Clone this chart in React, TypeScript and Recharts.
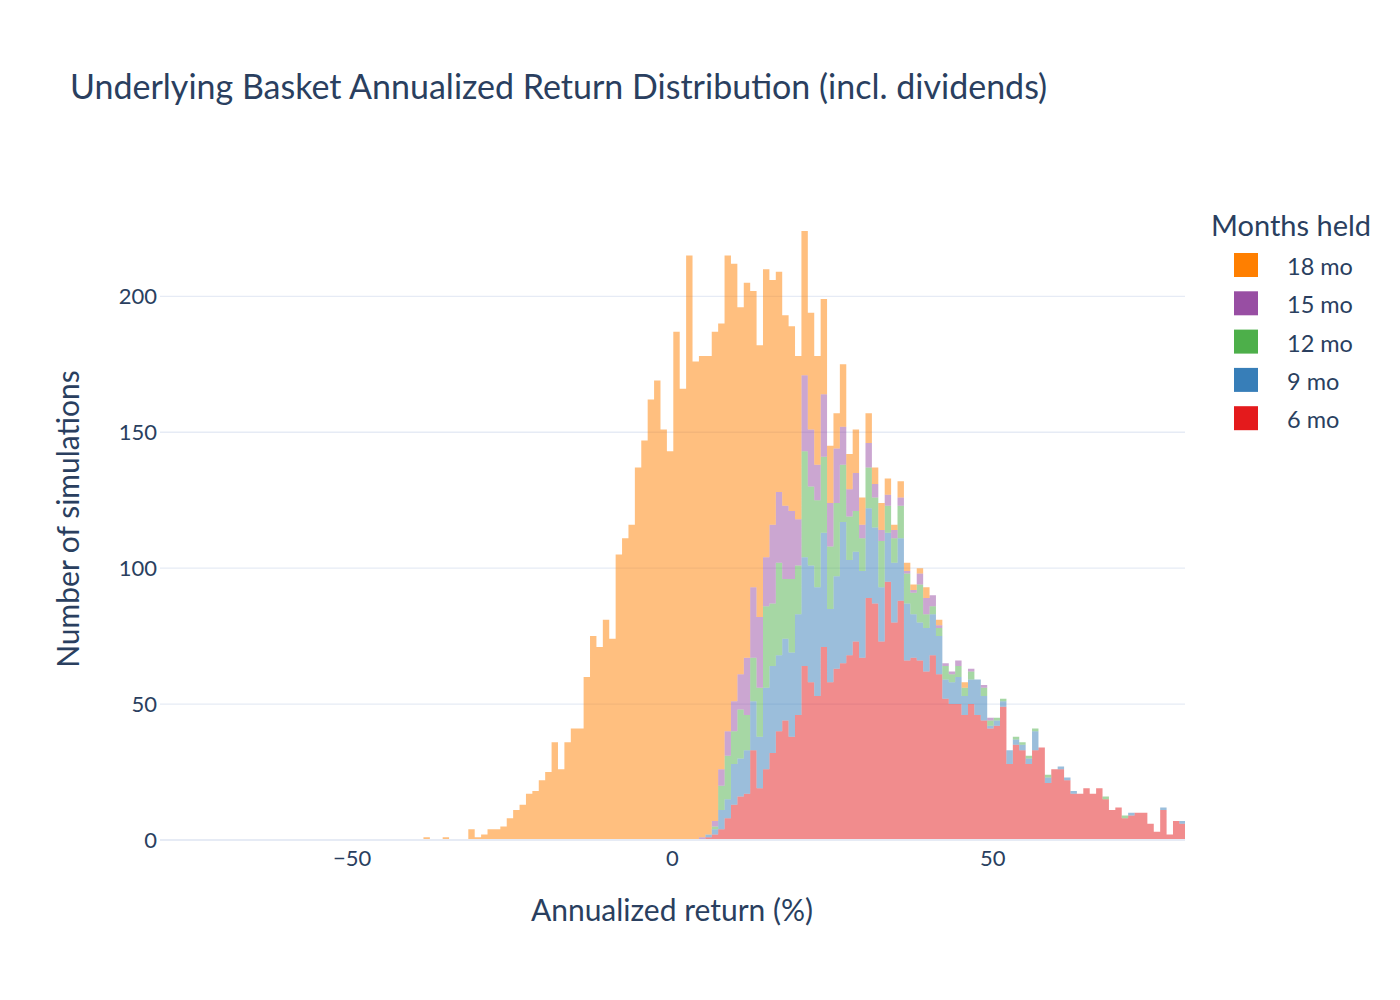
import { ComposedChart, Area, XAxis, YAxis, CartesianGrid } from 'recharts'

// bins are 1 point wide, bin k covers [k + 0.125, k + 1.125]
const BIN_OFFSET = 0.125
const FIRST_BIN = -39
const LAST_BIN = 79

// counts per bin, each list starts at its own first bin
const mo18First = -39
const mo18 = [
  1, 0, 0, 1, 0, 0, 0, 4, 1, 2, 4, 4, 5, 8, 11, 13, 17, 18, 22, 25, 36, 26, 36, 41, 41, 60, 75, 71, 81, 74,
  105, 111, 116, 137, 147, 162, 169, 151, 143, 187, 166, 215, 176,
  177, 176, 180, 164, 175, 161, 135, 138, 109, 100, 106, 90, 81, 70, 68, 60, 53, 43, 40, 35, 21, 13, 23, 13, 16,
  10, 11, 6, 10, 6, 2, 6, 3, 2, 2, 4, 0, 2, 0, 0, 0, 2,
]

const mo15First = 4
const mo15 = [
  1, 0, 2, 6, 9, 11, 13, 21, 26, 26, 18, 29, 26, 27, 25, 17, 28, 21, 13, 23, 16, 20, 14, 10, 14, 5, 9, 5, 4, 4,
  3, 3, 1, 1, 4, 6, 4, 1, 1, 1, 2, 0, 1, 0, 1, 1,
]

const mo12First = 4
const mo12 = [
  0, 0, 1, 9, 16, 12, 18, 13, 16, 18, 30, 23, 34, 22, 27, 18, 39, 29, 32, 28, 23, 27, 21, 16, 15, 12, 15, 11, 17, 10,
  9, 12, 11, 8, 14, 5, 3, 3, 5, 3, 4, 3, 3, 0, 3, 2, 1, 1, 0, 1, 1, 1, 1, 0, 1, 0, 0, 0, 0, 0, 0, 0, 0, 1, 0, 0, 1,
]

const mo9First = 4
const mo9 = [
  0, 1, 2, 7, 7, 15, 14, 16, 18, 19, 30, 32, 28, 30, 31, 37, 40, 43, 40, 42, 27, 34, 52, 35, 33, 32, 33, 28, 20, 18,
  22, 23, 21, 16, 14, 16, 15, 14, 7, 8, 10, 7, 9, 13, 9, 1, 2, 2, 5, 2, 2, 2, 7, 0, 2, 0, 1, 1, 1, 0,
  0, 0, 0, 0, 0, 0, 0, 1, 0, 0, 0, 0, 1, 0, 0, 1,
]

const mo6First = 4
const mo6 = [
  0, 1, 2, 4, 8, 13, 16, 17, 33, 19, 26, 32, 40, 44, 38, 46, 64, 58, 53, 71, 58, 63, 65, 68, 73, 67, 89, 87, 73, 95,
  80, 88, 66, 67, 66, 62, 68, 61, 52, 50, 50, 46, 50, 46, 44, 41, 42, 49, 28, 35, 33, 28, 33, 34, 21, 26, 26, 22, 17, 17,
  19, 17, 19, 15, 11, 12, 8, 9, 10, 10, 6, 3, 11, 2, 7, 6,
]

const xTicks = [-50, 0, 50]
const yTicks = [0, 50, 100, 150, 200]

// bottom of the stack first
const series = [
  { key: 'm6', name: '6 mo', color: '#e41a1c', first: mo6First, counts: mo6 },
  { key: 'm9', name: '9 mo', color: '#377eb8', first: mo9First, counts: mo9 },
  { key: 'm12', name: '12 mo', color: '#4daf4a', first: mo12First, counts: mo12 },
  { key: 'm15', name: '15 mo', color: '#984ea3', first: mo15First, counts: mo15 },
  { key: 'm18', name: '18 mo', color: '#ff7f00', first: mo18First, counts: mo18 },
]

// one row per bin edge, the last edge repeats the last bin so the step closes
const rows: Record<string, number>[] = []
for (let k = FIRST_BIN; k <= LAST_BIN + 1; k++) {
  const bin = Math.min(k, LAST_BIN)
  const row: Record<string, number> = { x: k + BIN_OFFSET }
  for (const s of series) row[s.key] = s.counts[bin - s.first] ?? 0
  rows.push(row)
}

const FONT = 'Lato, "Noto Sans", sans-serif'
const TEXT = '#2a3f5f'
const GRID = '#e6ebf5'

const fmtTick = (v: number) => (v < 0 ? `\u2212${Math.abs(v)}` : `${v}`)

export default function App() {
  return (
    <div style={{ position: 'absolute', left: 0, top: 0, width: 1400, height: 1000, background: '#fff', fontFamily: FONT }}>
      <ComposedChart width={1400} height={1000} data={rows} margin={{ top: 199, right: 215, bottom: 130, left: 100 }}>
        <CartesianGrid vertical={false} horizontalValues={yTicks} stroke={GRID} strokeWidth={1.3} />
        <XAxis
          type="number"
          dataKey="x"
          height={30}
          domain={[-80, 80]}
          ticks={xTicks}
          allowDataOverflow
          tickFormatter={fmtTick}
          tick={{ fontSize: 22, fill: TEXT, fontFamily: FONT }}
          tickLine={false}
          tickSize={0}
          tickMargin={10}
          axisLine={{ stroke: GRID, strokeWidth: 2 }}
        />
        <YAxis
          width={60}
          domain={[0, 235.8]}
          ticks={yTicks}
          tick={{ fontSize: 22, fill: TEXT, fontFamily: FONT }}
          tickLine={false}
          tickSize={0}
          tickMargin={3}
          axisLine={false}
        />
        {series.map((s) => (
          <Area
            key={s.key}
            dataKey={s.key}
            name={s.name}
            stackId="mo"
            type="stepAfter"
            fill={s.color}
            fillOpacity={0.5}
            stroke="none"
            dot={false}
            activeDot={false}
            isAnimationActive={false}
          />
        ))}
      </ComposedChart>

      <svg width={1400} height={1000} style={{ position: 'absolute', left: 0, top: 0, pointerEvents: 'none' }}>
        <text x={70} y={99} fontSize={34} fill={TEXT} fontFamily={FONT}>
          Underlying Basket Annualized Return Distribution (incl. dividends)
        </text>
        <text x={672} y={921} fontSize={30} fill={TEXT} fontFamily={FONT} textAnchor="middle">
          Annualized return (%)
        </text>
        <text transform="translate(79,519) rotate(-90)" fontSize={30} fill={TEXT} fontFamily={FONT} textAnchor="middle">
          Number of simulations
        </text>
        <text x={1211} y={236} fontSize={29} fill={TEXT} fontFamily={FONT}>
          Months held
        </text>
        {[...series].reverse().map((s, i) => (
          <g key={s.key}>
            <rect x={1234} y={253 + i * 38.3} width={24} height={24} fill={s.color} />
            <text x={1287} y={275 + i * 38.3} fontSize={23.5} fill={TEXT} fontFamily={FONT}>
              {s.name}
            </text>
          </g>
        ))}
      </svg>
    </div>
  )
}
